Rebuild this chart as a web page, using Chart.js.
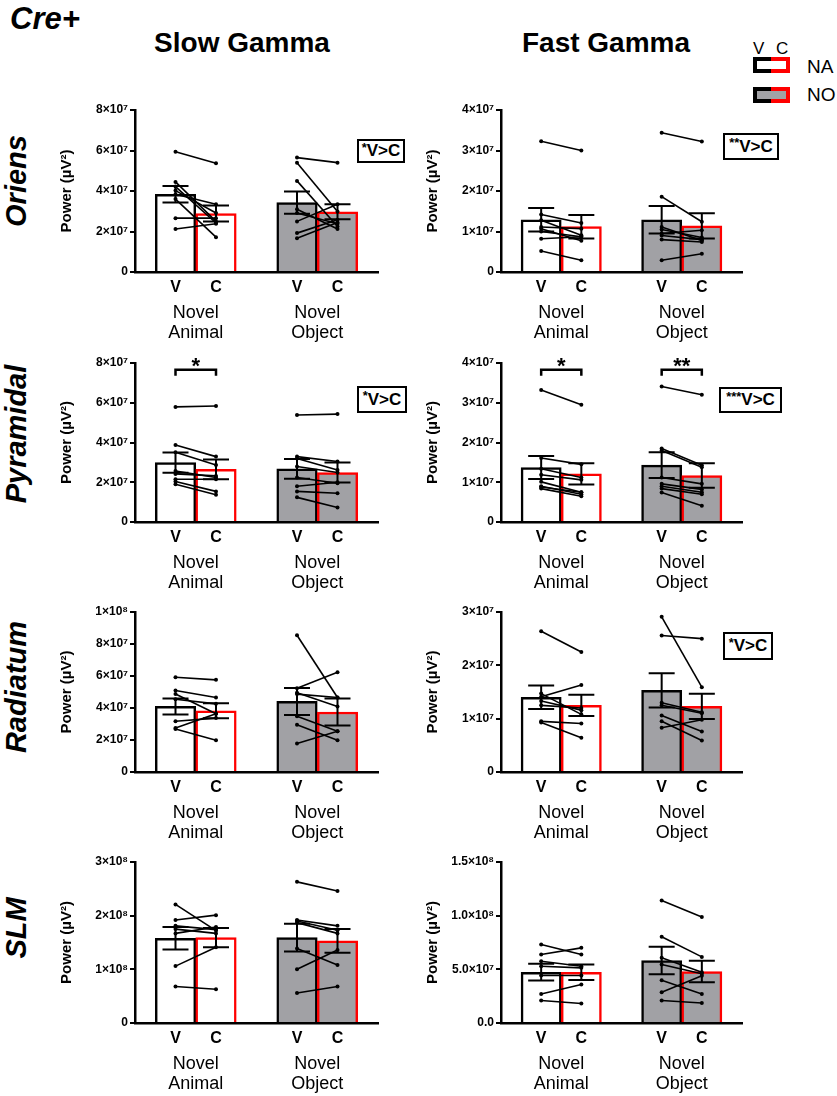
<!DOCTYPE html>
<html lang="en">
<head>
<meta charset="UTF-8">
<title>Cre+ gamma power</title>
<script src="https://cdn.jsdelivr.net/npm/chart.js"></script>
<style>
    body { margin: 0; background: #fff; font-family: "Liberation Sans", Arial, sans-serif; color: #000; }
    .page { position: relative; width: 837px; height: 1096px; overflow: hidden; }
    .page canvas { position: absolute; }
    .txt { position: absolute; white-space: nowrap; }
    .main { left: 10px; top: 1px; font-size: 31px; line-height: 36px; font-weight: bold; font-style: italic; }
    .col { top: 26px; width: 300px; text-align: center; font-size: 28px; line-height: 34px; font-weight: bold; }
    .row { width: 200px; height: 34px; line-height: 34px; text-align: center; font-size: 29px;
           font-weight: bold; font-style: italic; transform: rotate(-90deg); }
    .stat { position: absolute; box-sizing: border-box; border: 2.5px solid #000; background: #fff;
            display: flex; align-items: center; justify-content: center; font-weight: bold; font-size: 17px; }
    .stat .ast { font-size: 13px; position: relative; top: -4px; }
    .leg { font-size: 17px; line-height: 20px; }
    .legname { font-size: 19px; line-height: 22px; }
    .half { position: absolute; box-sizing: border-box; height: 16px; border: 4px solid #000; }
</style>
</head>
<body>
<div class="page" id="page">
    <div class="txt main">Cre+</div>
    <div class="txt col" style="left:92px">Slow Gamma</div>
    <div class="txt col" style="left:456px">Fast Gamma</div>

    <div class="txt row" style="left:-84px; top:164px">Oriens</div>
    <div class="txt row" style="left:-84px; top:417px">Pyramidal</div>
    <div class="txt row" style="left:-84px; top:670px">Radiatum</div>
    <div class="txt row" style="left:-84px; top:911px">SLM</div>

    <!-- legend -->
    <div class="txt leg" style="left:753px; top:39px">V</div>
    <div class="txt leg" style="left:776px; top:39px">C</div>
    <div class="half" style="left:753px; top:57px; width:18px; border-right:none; background:#fff"></div>
    <div class="half" style="left:771px; top:57px; width:19px; border-left:none; border-color:#f00; background:#fff"></div>
    <div class="txt legname" style="left:807px; top:56px">NA</div>
    <div class="half" style="left:753px; top:87px; width:18px; border-right:none; background:#a1a1a5"></div>
    <div class="half" style="left:771px; top:87px; width:19px; border-left:none; border-color:#f00; background:#a1a1a5"></div>
    <div class="txt legname" style="left:807px; top:84px">NO</div>

    <!-- ANOVA main effects -->
    <div class="stat" style="left:357px; top:139px; width:48px; height:24px"><span class="ast">*</span>V&gt;C</div>
    <div class="stat" style="left:723px; top:133px; width:56px; height:27px"><span class="ast">**</span>V&gt;C</div>
    <div class="stat" style="left:357px; top:386px; width:50px; height:27px"><span class="ast">*</span>V&gt;C</div>
    <div class="stat" style="left:719px; top:387px; width:63px; height:26px"><span class="ast">***</span>V&gt;C</div>
    <div class="stat" style="left:723px; top:632px; width:50px; height:28px"><span class="ast">*</span>V&gt;C</div>
</div>

<script>
    // all power values in units of 10^7 µV^2
    // order of bars: NA-V, NA-C, NO-V, NO-C ; pairs are [V, C] per animal
    const xPos = [1, 2, 4, 5];
    const xLabels = ['V', 'C', 'V', 'C'];
    const groupNames = [['Novel', 'Animal'], ['Novel', 'Object']];

    const ticks8 = [0, 2, 4, 6, 8];
    const ticks8Labels = ['0', '2×10⁷', '4×10⁷', '6×10⁷', '8×10⁷'];
    const ticks4 = [0, 1, 2, 3, 4];
    const ticks4Labels = ['0', '1×10⁷', '2×10⁷', '3×10⁷', '4×10⁷'];
    const ticks10 = [0, 2, 4, 6, 8, 10];
    const ticks10Labels = ['0', '2×10⁷', '4×10⁷', '6×10⁷', '8×10⁷', '1×10⁸'];
    const ticks3 = [0, 1, 2, 3];
    const ticks3Labels = ['0', '1×10⁷', '2×10⁷', '3×10⁷'];
    const ticks30 = [0, 10, 20, 30];
    const ticks30Labels = ['0', '1×10⁸', '2×10⁸', '3×10⁸'];
    const ticks15 = [0, 5, 10, 15];
    const ticks15Labels = ['0.0', '5.0×10⁷', '1.0×10⁸', '1.5×10⁸'];

    // Slow gamma - Oriens
    const slowOriensMean = [3.84, 2.89, 3.43, 2.97];
    const slowOriensSem = [0.41, 0.39, 0.55, 0.37];
    const slowOriensNA = [[5.94, 5.37], [4.45, 2.50], [4.22, 2.42], [4.02, 2.91], [3.84, 3.35], [3.60, 1.72], [2.66, 2.66], [2.12, 2.38]];
    const slowOriensNO = [[5.65, 5.40], [5.40, 2.99], [4.50, 2.25], [3.10, 2.12], [2.91, 2.38], [2.50, 3.35], [1.92, 2.58], [1.67, 2.45]];

    // Fast gamma - Oriens
    const fastOriensMean = [1.29, 1.12, 1.29, 1.14];
    const fastOriensSem = [0.29, 0.29, 0.34, 0.31];
    const fastOriensNA = [[3.23, 3.00], [1.42, 1.21], [1.28, 0.91], [1.11, 1.07], [1.07, 0.77], [1.00, 0.87], [0.82, 0.87], [0.52, 0.29]];
    const fastOriensNO = [[3.44, 3.22], [1.86, 1.24], [1.11, 0.78], [1.05, 0.85], [0.95, 1.03], [0.90, 0.80], [0.80, 0.74], [0.29, 0.45]];

    // Slow gamma - Pyramidal
    const slowPyrMean = [2.99, 2.65, 2.67, 2.49];
    const slowPyrSem = [0.51, 0.50, 0.50, 0.50];
    const slowPyrNA = [[5.79, 5.84], [3.87, 3.29], [3.51, 2.87], [2.57, 2.24], [2.42, 2.32], [2.15, 2.15], [2.04, 1.54], [1.90, 1.37]];
    const slowPyrNO = [[5.38, 5.43], [3.29, 3.04], [3.20, 2.62], [2.79, 2.49], [2.24, 1.95], [1.80, 2.00], [1.54, 1.45], [1.24, 0.73]];
    const slowPyrBrackets = [{ from: 1, to: 2, y: 7.66, label: '*' }];

    // Fast gamma - Pyramidal
    const fastPyrMean = [1.37, 1.21, 1.43, 1.17];
    const fastPyrSem = [0.29, 0.265, 0.325, 0.31];
    const fastPyrNA = [[3.32, 2.95], [1.61, 1.45], [1.34, 1.12], [1.19, 1.06], [1.01, 0.75], [0.90, 0.70], [0.88, 0.75], [0.84, 0.65]];
    const fastPyrNO = [[3.41, 3.20], [1.85, 1.43], [1.80, 1.38], [1.12, 0.96], [0.96, 0.82], [0.90, 0.75], [0.84, 0.70], [0.74, 0.41]];
    const fastPyrBrackets = [{ from: 1, to: 2, y: 3.83, label: '*' }, { from: 4, to: 5, y: 3.83, label: '**' }];

    // Slow gamma - Radiatum
    const slowRadMean = [4.10, 3.83, 4.41, 3.75];
    const slowRadSem = [0.50, 0.47, 0.84, 0.85];
    const slowRadNA = [[5.92, 5.76], [5.09, 4.66], [4.87, 3.64], [4.55, 4.26], [3.17, 3.37], [2.75, 3.64], [2.69, 1.99]];
    const slowRadNO = [[8.55, 4.66], [5.24, 6.23], [4.87, 4.66], [4.95, 4.10], [3.48, 2.55], [2.96, 1.99], [1.78, 2.55]];

    // Fast gamma - Radiatum
    const fastRadMean = [1.40, 1.25, 1.53, 1.23];
    const fastRadSem = [0.22, 0.20, 0.32, 0.235];
    const fastRadNA = [[2.64, 2.25], [1.47, 1.08], [1.41, 1.63], [1.33, 1.16], [1.25, 1.20], [0.95, 0.91], [0.93, 0.64]];
    const fastRadNO = [[2.91, 1.59], [2.56, 2.50], [1.30, 1.12], [1.25, 1.10], [1.06, 0.76], [0.95, 0.59], [0.83, 0.98]];

    // Slow gamma - SLM
    const slowSlmMean = [15.8, 15.9, 15.9, 15.3];
    const slowSlmSem = [2.1, 1.8, 2.6, 2.2];
    const slowSlmNA = [[22.1, 17.2], [19.2, 20.1], [18.1, 17.4], [17.5, 16.7], [16.7, 17.9], [10.6, 14.1], [6.8, 6.3]];
    const slowSlmNO = [[26.3, 24.6], [19.2, 18.1], [19.0, 17.3], [18.7, 16.7], [13.9, 10.8], [10.0, 13.6], [5.6, 6.8]];

    // Fast gamma - SLM
    const fastSlmMean = [4.73, 4.73, 5.82, 4.79];
    const fastSlmSem = [0.78, 0.72, 1.28, 1.00];
    const fastSlmNA = [[7.31, 6.38], [6.38, 7.00], [5.76, 5.29], [5.29, 5.14], [4.42, 4.42], [2.71, 3.58], [2.09, 1.81]];
    const fastSlmNO = [[11.42, 9.87], [8.03, 6.16], [6.07, 4.73], [5.45, 4.58], [3.98, 2.71], [2.86, 4.40], [2.09, 1.87]];

    // plot boxes on the page (px)
    const AXIS_W = 80, PAD_T = 20, PAD_R = 8, XAXIS_H = 75;
    const SLOW = { left: 135, right: 378 };
    const FAST = { left: 501, right: 742 };
    const ROW_Y = [[110, 272], [363, 522], [612, 772], [862, 1023]];

    const panels = [
        { col: SLOW, row: 0, ticks: ticks8, labels: ticks8Labels, mean: slowOriensMean, sem: slowOriensSem, na: slowOriensNA, no: slowOriensNO },
        { col: FAST, row: 0, ticks: ticks4, labels: ticks4Labels, mean: fastOriensMean, sem: fastOriensSem, na: fastOriensNA, no: fastOriensNO },
        { col: SLOW, row: 1, ticks: ticks8, labels: ticks8Labels, mean: slowPyrMean, sem: slowPyrSem, na: slowPyrNA, no: slowPyrNO, brackets: slowPyrBrackets },
        { col: FAST, row: 1, ticks: ticks4, labels: ticks4Labels, mean: fastPyrMean, sem: fastPyrSem, na: fastPyrNA, no: fastPyrNO, brackets: fastPyrBrackets },
        { col: SLOW, row: 2, ticks: ticks10, labels: ticks10Labels, mean: slowRadMean, sem: slowRadSem, na: slowRadNA, no: slowRadNO },
        { col: FAST, row: 2, ticks: ticks3, labels: ticks3Labels, mean: fastRadMean, sem: fastRadSem, na: fastRadNA, no: fastRadNO },
        { col: SLOW, row: 3, ticks: ticks30, labels: ticks30Labels, mean: slowSlmMean, sem: slowSlmSem, na: slowSlmNA, no: slowSlmNO },
        { col: FAST, row: 3, ticks: ticks15, labels: ticks15Labels, mean: fastSlmMean, sem: fastSlmSem, na: fastSlmNA, no: fastSlmNO }
    ];

    const FONT = '"Liberation Sans", Arial, sans-serif';
    Chart.defaults.font.family = FONT;
    Chart.defaults.color = '#000';

    const GREY = '#a1a1a5';
    const barFill = ['#ffffff', '#ffffff', GREY, GREY];
    const barEdge = ['#000000', '#ff0000', '#000000', '#ff0000'];

    function pairLine(pair, k) {
        return {
            type: 'line',
            data: [{ x: xPos[k], y: pair[0] }, { x: xPos[k + 1], y: pair[1] }],
            borderColor: '#000',
            borderWidth: 1.6,
            pointRadius: 2,
            pointBackgroundColor: '#000',
            pointBorderWidth: 0,
            order: 1
        };
    }

    function makePanel(p) {
        const top = ROW_Y[p.row][0], bottom = ROW_Y[p.row][1];
        const cv = document.createElement('canvas');
        cv.width = (p.col.right - p.col.left) + AXIS_W + PAD_R;
        cv.height = (bottom - top) + PAD_T + XAXIS_H;
        cv.style.left = (p.col.left - AXIS_W) + 'px';
        cv.style.top = (top - PAD_T) + 'px';
        document.getElementById('page').appendChild(cv);

        const datasets = [];
        p.na.forEach(pair => datasets.push(pairLine(pair, 0)));
        p.no.forEach(pair => datasets.push(pairLine(pair, 2)));
        datasets.push({
            type: 'bar',
            data: p.mean.map((m, i) => ({ x: xPos[i], y: m })),
            backgroundColor: barFill,
            borderColor: barEdge,
            borderWidth: 2.5,
            barPercentage: 1,
            categoryPercentage: 1,
            order: 2
        });

        // error bars, brackets and group names
        const extras = {
            id: 'extras',
            afterDatasetsDraw(chart) {
                const { ctx, scales: { x, y }, chartArea } = chart;
                ctx.save();
                ctx.strokeStyle = '#000';
                ctx.lineWidth = 2;
                p.mean.forEach((m, i) => {
                    const cx = x.getPixelForValue(xPos[i]);
                    const y1 = y.getPixelForValue(m + p.sem[i]);
                    const y2 = y.getPixelForValue(m - p.sem[i]);
                    ctx.beginPath();
                    ctx.moveTo(cx, y1); ctx.lineTo(cx, y2);
                    ctx.moveTo(cx - 13, y1); ctx.lineTo(cx + 13, y1);
                    ctx.moveTo(cx - 13, y2); ctx.lineTo(cx + 13, y2);
                    ctx.stroke();
                });

                (p.brackets || []).forEach(b => {
                    const xa = x.getPixelForValue(b.from), xb = x.getPixelForValue(b.to);
                    const yy = y.getPixelForValue(b.y);
                    ctx.lineWidth = 2.5;
                    ctx.beginPath();
                    ctx.moveTo(xa, yy + 6); ctx.lineTo(xa, yy); ctx.lineTo(xb, yy); ctx.lineTo(xb, yy + 6);
                    ctx.stroke();
                    ctx.fillStyle = '#000';
                    ctx.font = 'bold 22px ' + FONT;
                    ctx.textAlign = 'center';
                    ctx.textBaseline = 'alphabetic';
                    ctx.fillText(b.label, (xa + xb) / 2, yy + 3);
                });

                ctx.fillStyle = '#000';
                ctx.font = '18px ' + FONT;
                ctx.textAlign = 'center';
                ctx.textBaseline = 'middle';
                groupNames.forEach((g, gi) => {
                    const cx = x.getPixelForValue((xPos[gi * 2] + xPos[gi * 2 + 1]) / 2);
                    ctx.fillText(g[0], cx, chartArea.bottom + 41);
                    ctx.fillText(g[1], cx, chartArea.bottom + 61);
                });
                ctx.restore();
            }
        };

        new Chart(cv, {
            type: 'bar',
            data: { datasets: datasets },
            options: {
                responsive: false,
                animation: false,
                events: [],
                layout: { padding: { top: PAD_T, right: PAD_R, left: 0, bottom: 0 } },
                plugins: { legend: { display: false }, tooltip: { enabled: false } },
                scales: {
                    x: {
                        type: 'linear',
                        min: 0,
                        max: 6,
                        offset: false,
                        afterBuildTicks: s => { s.ticks = xPos.map(v => ({ value: v })); },
                        afterFit: s => { s.height = XAXIS_H; },
                        ticks: {
                            callback: (v, i) => xLabels[i],
                            font: { size: 16, weight: 'bold' },
                            color: '#000',
                            padding: 6,
                            maxRotation: 0,
                            autoSkip: false
                        },
                        grid: { display: false, drawTicks: false },
                        border: { color: '#000', width: 2.5 }
                    },
                    y: {
                        min: 0,
                        max: p.ticks[p.ticks.length - 1],
                        afterBuildTicks: s => { s.ticks = p.ticks.map(v => ({ value: v })); },
                        afterFit: s => { s.width = AXIS_W; },
                        ticks: {
                            callback: (v, i) => p.labels[i],
                            font: { size: 12, weight: 'bold' },
                            color: '#000',
                            padding: 2,
                            autoSkip: false
                        },
                        grid: { drawOnChartArea: false, drawTicks: true, tickLength: 5, color: '#000', lineWidth: 2 },
                        border: { color: '#000', width: 2.5 },
                        title: {
                            display: true,
                            text: 'Power (µV²)',
                            font: { size: 15, weight: 'bold' },
                            color: '#000',
                            padding: { top: 3, bottom: 0 }
                        }
                    }
                }
            },
            plugins: [extras]
        });
    }

    panels.forEach(makePanel);
</script>
</body>
</html>
